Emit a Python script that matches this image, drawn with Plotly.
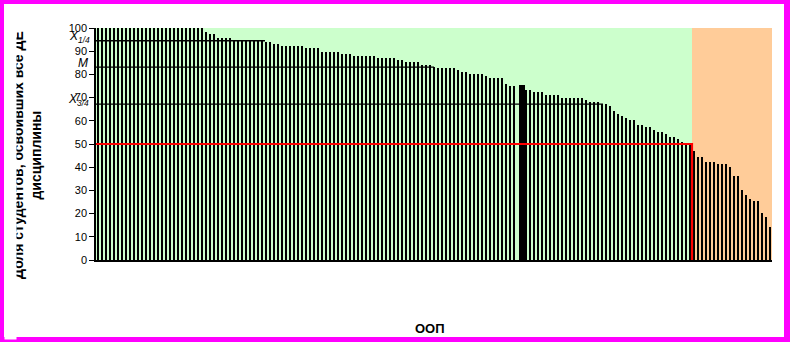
import plotly.graph_objects as go

# ---------------- data ----------------
values = [
    100, 100, 100, 100, 100, 100, 100, 100, 100, 100,
    100, 100, 100, 100, 100, 100, 100, 100, 100, 100,
    100, 100, 100, 100, 100, 100, 100,
    98.3, 97.4, 97.4,
    95.7, 95.7, 95.7, 95.7,
    94.8, 94.8, 94.8, 94.8, 94.8, 94.8,
    94.4, 94.4,
    94.0, 94.0, 93.1, 93.1,
    92.2, 92.2, 92.2, 92.2, 92.2, 92.2,
    91.4, 91.4, 91.4, 91.4,
    89.7, 89.7, 89.7, 89.7, 89.7,
    88.8, 88.8, 88.8,
    87.9, 87.9, 87.9, 87.9, 87.9, 87.9,
    87.1, 87.1, 87.1, 87.1, 87.1,
    86.2, 86.2,
    85.3, 85.3, 85.3, 85.3,
    84.1, 84.1, 84.1,
    83.2, 82.8, 82.8, 82.8, 82.8, 82.8,
    81.9, 81.0, 81.0,
    80.2, 80.2, 80.2, 80.2,
    79.3,
    78.4, 78.4, 78.4, 78.4,
    75.9, 75.0, 75.0,
    75.4, 75.4,
    73.3, 73.3, 72.4, 72.4, 72.4,
    71.1, 71.1, 71.1, 71.1,
    69.8, 69.8, 69.8, 69.8, 69.8, 69.8,
    69.0, 68.1, 68.1, 68.1,
    67.1, 67.1, 66.2, 64.2, 62.8, 61.9, 61.1, 60.3, 60.3, 58.2,
    58.2, 57.3, 57.3, 56.0, 55.2, 55.2, 54.3, 53.0, 53.0, 52.2,
    51.0, 50.3, 50.0,
    47.0, 44.4, 44.4, 42.2, 42.2, 42.2, 41.4, 41.4, 41.4, 40.1,
    36.2, 36.2, 30.2, 28.0, 26.3, 25.4, 25.4, 20.4, 18.5, 14.2,
]
highlight_slots = [105, 106]          # the highlighted ООП (drawn as one thick bar)
threshold = 50                         # pass level
quartile_labels = ["<i>X</i><sub><i>1/4</i></sub>", "<i>M</i>", "<i>X</i><sub><i>3/4</i></sub>"]
quartile_levels = [94.5, 83.1, 67.2]
quartile_fracs = [0.25, 0.5, 0.75]
y_ticks = [0, 10, 20, 30, 40, 50, 60, 70, 80, 90, 100]
x_title = "ООП"
y_title_lines = ["Доля студентов, освоивших все ДЕ", "дисциплины"]

# ---------------- figure ----------------
N = len(values)
xs = list(range(N))
n_pass = sum(1 for v in values if v >= threshold)

W, H = 790, 342
L, R, T, B = 96, 18, 28, 82
pw, ph = W - L - R, H - T - B

def px_x(p):
    return (p - L) / pw

def px_y(p):
    return (H - B - p) / ph

bar_w = 0.27
thick_w = 1.4
widths = []
offsets = []
for i in xs:
    if i == highlight_slots[-1]:
        widths.append(thick_w)
        offsets.append(-thick_w / 2)
    elif i in highlight_slots:
        widths.append(thick_w)
        offsets.append(1 - thick_w / 2)
    else:
        widths.append(bar_w)
        offsets.append(-bar_w / 2)

fig = go.Figure()
fig.add_trace(go.Bar(
    x=xs, y=values, width=widths, offset=offsets,
    marker=dict(color="rgba(0,0,0,0.999)", line=dict(width=0)),
    hoverinfo="skip", showlegend=False,
))

shapes = []
shapes.append(dict(type="rect", xref="x", yref="y", x0=-0.5, x1=n_pass - 0.5, y0=0, y1=100,
                   fillcolor="#CCFFCC", line=dict(width=0), layer="below"))
shapes.append(dict(type="rect", xref="x", yref="y", x0=n_pass - 0.5, x1=N - 0.5, y0=0, y1=100,
                   fillcolor="#FFCC99", line=dict(width=0), layer="below"))
for lvl, fr in zip(quartile_levels, quartile_fracs):
    shapes.append(dict(type="line", xref="x", yref="y", x0=-0.5, x1=-0.5 + N * fr, y0=lvl, y1=lvl,
                       line=dict(color="black", width=1.3), layer="above"))
shapes.append(dict(type="path", xref="x", yref="y",
                   path=f"M -0.5 {threshold} L {n_pass - 0.5} {threshold} L {n_pass - 0.5} 0",
                   line=dict(color="#FF0000", width=2.2), layer="above"))
mag = "#FF00FF"
shapes += [
    dict(type="rect", xref="paper", yref="paper", x0=px_x(0), x1=px_x(W), y0=px_y(0), y1=px_y(4),
         fillcolor=mag, line=dict(width=0), layer="above"),
    dict(type="rect", xref="paper", yref="paper", x0=px_x(0), x1=px_x(W), y0=px_y(337), y1=px_y(H),
         fillcolor=mag, line=dict(width=0), layer="above"),
    dict(type="rect", xref="paper", yref="paper", x0=px_x(0), x1=px_x(4), y0=px_y(0), y1=px_y(H),
         fillcolor=mag, line=dict(width=0), layer="above"),
    dict(type="rect", xref="paper", yref="paper", x0=px_x(784), x1=px_x(W), y0=px_y(0), y1=px_y(H),
         fillcolor=mag, line=dict(width=0), layer="above"),
]

label_x = [79, 83, 78]
annotations = []
for lab, lvl, lx in zip(quartile_labels, quartile_levels, label_x):
    annotations.append(dict(text=lab, xref="paper", yref="y", x=px_x(lx), y=lvl,
                            xanchor="center", yanchor="middle", yshift=4, showarrow=False,
                            font=dict(family="Liberation Sans, Arial", size=12, color="black")))
annotations.append(dict(text=f"<b>{x_title}</b>", xref="paper", yref="paper", x=px_x(430), y=px_y(328),
                        xanchor="center", yanchor="middle", showarrow=False,
                        font=dict(family="Liberation Sans, Arial", size=13, color="black")))
annotations.append(dict(text="<b>" + "<br>".join(y_title_lines) + "</b>", xref="paper", yref="paper",
                        x=px_x(27), y=px_y(155), textangle=-90, xanchor="center", yanchor="middle",
                        showarrow=False,
                        font=dict(family="Liberation Sans, Arial", size=14, color="black")))
# white strip: the chart area edge clips the first title line, as in the reference
annotations.append(dict(text=" ", xref="paper", yref="paper", x=px_x(4), y=px_y(4),
                        xanchor="left", yanchor="top", width=11, height=334, borderpad=0,
                        bgcolor="white", showarrow=False, font=dict(size=4)))

fig.update_layout(
    width=W, height=H, margin=dict(l=L, r=R, t=T, b=B, pad=0),
    paper_bgcolor="white", plot_bgcolor="white",
    bargap=0, barmode="overlay",
    shapes=shapes, annotations=annotations,
    xaxis=dict(range=[-0.5, N - 0.5], showticklabels=False, ticks="", showgrid=False, zeroline=False,
               showline=True, linecolor="black", linewidth=1.5, fixedrange=True),
    yaxis=dict(range=[0, 100], tickvals=y_ticks, ticks="outside", ticklen=5, tickcolor="black",
               tickwidth=1.3, showgrid=False, zeroline=False, showline=True, linecolor="black",
               linewidth=1.5, tickfont=dict(family="Liberation Sans, Arial", size=11, color="black"),
               fixedrange=True),
    font=dict(family="Liberation Sans, Arial", color="black"),
)

fig.write_html("out.html")
